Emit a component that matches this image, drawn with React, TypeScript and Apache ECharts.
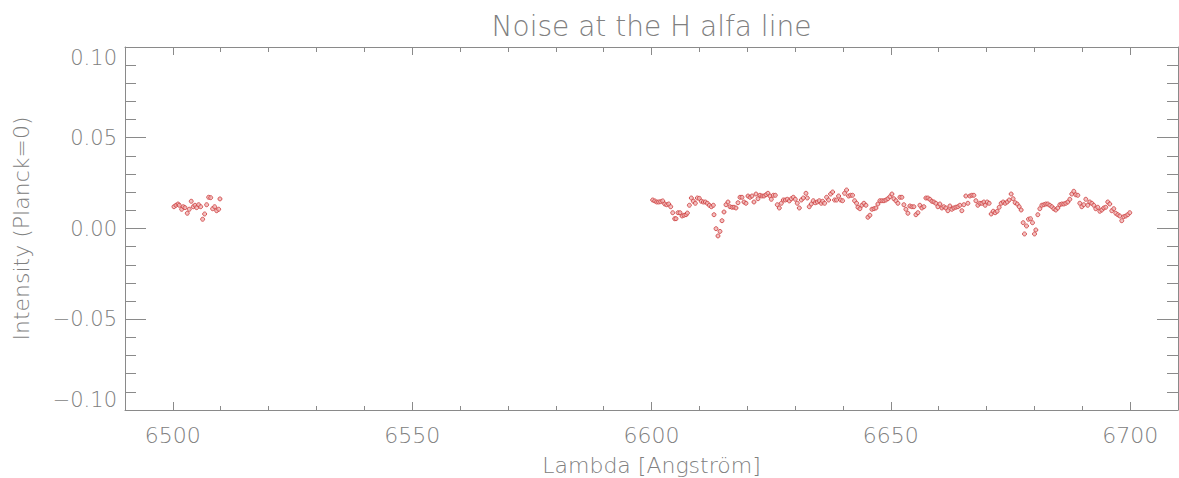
import React, { useEffect, useRef } from "react";
import * as echarts from "echarts";

const titleText = "Noise at the H alfa line";
const xName = "Lambda [Angström]";
const yName = "Intensity (Planck=0)";

const xMin = 6490;
const xMax = 6710;
const xMajorTicks = [6500, 6550, 6600, 6650, 6700];
const yMin = -0.1;
const yMax = 0.1;

const leftLambda = [
  6500.23, 6500.65, 6501.07, 6501.34, 6501.84, 6502.17, 6502.53, 6503.01, 6503.43, 6503.84,
  6504.26, 6504.62, 6504.97, 6505.39, 6505.81, 6506.22, 6506.64, 6507.06, 6507.48, 6507.9,
  6508.31, 6508.73, 6509.15, 6509.57, 6509.84,
];
const leftIntensity = [
  0.012, 0.0128, 0.0135, 0.0128, 0.0106, 0.012, 0.0115, 0.0084, 0.0106, 0.015,
  0.012, 0.0128, 0.0115, 0.0131, 0.012, 0.0051, 0.008, 0.0131, 0.0172, 0.017,
  0.0109, 0.012, 0.0098, 0.0106, 0.0163,
];

const rightLambdaA = [
  6600.25, 6600.67, 6601.09, 6601.5, 6601.92, 6602.34, 6602.76, 6603.17, 6603.59, 6604.01,
  6604.43, 6604.84, 6605.12, 6605.54, 6605.96, 6606.38, 6606.79, 6607.21, 6607.49, 6607.91,
  6608.32, 6608.74, 6609.16, 6609.58, 6609.99, 6610.41, 6610.83, 6611.25, 6611.67, 6612.08,
  6612.5, 6612.92, 6613.06, 6613.48, 6613.89, 6614.31, 6614.73, 6615.15, 6615.56, 6615.98,
  6616.4, 6616.82, 6617.23, 6617.65, 6618.07, 6618.49, 6618.9, 6619.32, 6619.74, 6620.16,
  6620.58, 6620.99, 6621.41, 6621.83, 6622.25, 6622.66, 6623.08, 6623.5, 6623.92, 6624.33,
  6624.75, 6625.03, 6625.45, 6625.87, 6626.28, 6626.7, 6627.12, 6627.54, 6627.95, 6628.37,
  6628.79, 6629.21, 6629.62, 6630.04, 6630.46, 6630.88, 6631.3, 6631.71,
];
const rightIntensityA = [
  0.0157, 0.0152, 0.0146, 0.0146, 0.0148, 0.0152, 0.0135, 0.0131, 0.0135, 0.012,
  0.0087, 0.0054, 0.0054, 0.0087, 0.0087, 0.0069, 0.0073, 0.0076, 0.0085, 0.0128,
  0.0168, 0.015, 0.0139, 0.0168, 0.0166, 0.015, 0.0146, 0.0146, 0.0139, 0.0128,
  0.012, 0.0128, 0.0076, -0.0001, -0.0041, -0.0016, 0.0043, 0.0091, 0.0131, 0.0146,
  0.012, 0.0117, 0.0117, 0.0113, 0.0142, 0.0172, 0.0172, 0.0146, 0.0139, 0.0179,
  0.0172, 0.0179, 0.0146, 0.019, 0.0164, 0.0183, 0.0179, 0.0179, 0.0186, 0.0194,
  0.0179, 0.0161, 0.0183, 0.0183, 0.0131, 0.0113, 0.0139, 0.0157, 0.0157, 0.0161,
  0.0152, 0.0164, 0.0172, 0.0161, 0.0139, 0.0113, 0.0157, 0.0168,
];

const rightLambdaB = [
  6632.27, 6632.55, 6632.96, 6633.38, 6633.8, 6634.22, 6634.63, 6635.05, 6635.47, 6635.75,
  6636.17, 6636.58, 6637.0, 6637.42, 6637.84, 6638.25, 6638.67, 6639.09, 6639.51, 6639.92,
  6640.34, 6640.76, 6641.18, 6641.6, 6642.01, 6642.43, 6642.85, 6643.13, 6643.54, 6643.96,
  6644.38, 6644.8, 6645.21, 6645.63, 6646.05, 6646.47, 6646.89, 6647.3, 6647.72, 6648.14,
  6648.56, 6648.97, 6649.39, 6649.81, 6650.23, 6650.64, 6651.06, 6651.48, 6651.9, 6652.31,
  6652.73, 6653.15, 6653.57, 6653.98, 6654.4, 6654.82, 6655.24, 6655.66, 6656.07, 6656.49,
  6656.91, 6657.33, 6657.74, 6658.16, 6658.58, 6659.0, 6659.41, 6659.83, 6660.25, 6660.67,
  6661.08, 6661.5, 6661.92, 6662.34, 6662.75, 6663.17, 6663.59, 6664.01, 6664.43, 6664.84,
  6665.26,
];
const rightIntensityB = [
  0.0194, 0.0168, 0.012, 0.0135, 0.0153, 0.0142, 0.0146, 0.0153, 0.0139, 0.015,
  0.0139, 0.0172, 0.0157, 0.019, 0.0201, 0.0157, 0.0157, 0.0179, 0.0157, 0.0153,
  0.0194, 0.0212, 0.0179, 0.0183, 0.0183, 0.0153, 0.0139, 0.0117, 0.0109, 0.0128,
  0.0139, 0.0128, 0.0062, 0.0073, 0.0106, 0.0109, 0.0113, 0.0135, 0.0153, 0.0153,
  0.0153, 0.0157, 0.0164, 0.0175, 0.019, 0.0164, 0.0153, 0.0139, 0.0172, 0.0172,
  0.0131, 0.0106, 0.0084, 0.0124, 0.012, 0.012, 0.0076, 0.0087, 0.0128, 0.0113,
  0.012, 0.0168, 0.0168, 0.0161, 0.015, 0.0146, 0.0139, 0.012, 0.0135, 0.0113,
  0.012, 0.0113, 0.0098, 0.0124, 0.0106, 0.0113, 0.0117, 0.012, 0.0128, 0.0098,
  0.0131,
];

const rightLambdaC = [
  6665.68, 6666.1, 6666.51, 6666.93, 6667.35, 6667.77, 6668.18, 6668.6, 6669.02, 6669.44,
  6669.72, 6670.13, 6670.55, 6670.97, 6671.39, 6671.8, 6672.22, 6672.64, 6673.06, 6673.47,
  6673.89, 6674.31, 6674.73, 6675.14, 6675.56, 6675.98, 6676.4, 6676.82, 6677.23, 6677.65,
  6677.93, 6678.35, 6678.76, 6679.18, 6679.6, 6680.02, 6680.3, 6680.71, 6681.13, 6681.55,
  6681.97, 6682.38, 6682.8, 6683.22, 6683.64, 6684.05, 6684.47, 6684.89, 6685.31, 6685.72,
  6686.14, 6686.56, 6686.98, 6687.4, 6687.81, 6688.23, 6688.65, 6689.07, 6689.48, 6689.9,
  6690.32, 6690.74, 6691.15, 6691.57, 6691.99, 6692.41, 6692.82, 6693.24, 6693.66, 6694.08,
  6694.49, 6694.91, 6695.33, 6695.75, 6696.16, 6696.58, 6697.0, 6697.42, 6697.84, 6698.25,
  6698.67, 6699.09, 6699.51, 6699.92,
];
const rightIntensityC = [
  0.0179, 0.0139, 0.0179, 0.0183, 0.0183, 0.0153, 0.0128, 0.0139, 0.0139, 0.0146,
  0.0128, 0.0146, 0.0139, 0.008, 0.0095, 0.0087, 0.0095, 0.0117, 0.0139, 0.0146,
  0.0139, 0.0146, 0.0157, 0.019, 0.0164, 0.0142, 0.0135, 0.012, 0.0102, 0.0032,
  -0.003, 0.0014, 0.0051, 0.0054, 0.0032, -0.003, -0.0008, 0.0076, 0.0109, 0.0128,
  0.0131, 0.0135, 0.0135, 0.0128, 0.012, 0.0109, 0.0102, 0.0113, 0.0131, 0.0135,
  0.0135, 0.0139, 0.0146, 0.0161, 0.019, 0.0205, 0.0186, 0.0183, 0.0139, 0.012,
  0.0131, 0.0161, 0.0128, 0.0146, 0.0139, 0.0128, 0.0109, 0.0117, 0.0095, 0.0102,
  0.0113, 0.0117, 0.0146, 0.0135, 0.0098, 0.0109, 0.0084, 0.0076, 0.0069, 0.0043,
  0.0065, 0.0069, 0.0076, 0.0087,
];

const zip = (xs: number[], ys: number[]) => xs.map((x, i) => [x, ys[i]]);

const AXIS = "#8a8a8a";
const TEXT = "#808080";
const FONT = "'DejaVu Sans', sans-serif";

export default function App() {
  const ref = useRef<HTMLDivElement>(null);
  useEffect(() => {
    document.body.style.margin = "0";
    if (!ref.current) return;
    const chart = echarts.init(ref.current, null, { renderer: "svg" });
    const lineStyle = { color: AXIS, width: 1 };
    const fmtY = (v: number) => {
      const r = Math.round(v * 100) / 100;
      if (r === 0) return "0.00";
      return (r < 0 ? "\u2212" : "") + Math.abs(r).toFixed(2);
    };
    const data = [
      ...zip(leftLambda, leftIntensity),
      ...zip(rightLambdaA, rightIntensityA),
      ...zip(rightLambdaB, rightIntensityB),
      ...zip(rightLambdaC, rightIntensityC),
    ];
    const baseX = {
      type: "value" as const,
      min: xMin,
      max: xMax,
      splitLine: { show: false },
    };
    chart.setOption({
      animation: false,
      backgroundColor: "#ffffff",
      grid: {
        left: 125,
        right: 1,
        top: 47,
        bottom: 68,
        containLabel: false,
        outerBoundsMode: "none",
      },
      graphic: [
        {
          type: "text",
          x: 651.5,
          y: 26,
          style: {
            text: titleText,
            fill: TEXT,
            font: `200 28px ${FONT}`,
            textAlign: "center",
            textVerticalAlign: "middle",
          },
        },
      ],
      xAxis: [
        {
          ...baseX,
          position: "bottom",
          interval: 10,
          axisLine: { show: true, onZero: false, lineStyle },
          axisTick: { show: true, inside: true, length: 4, lineStyle },
          axisLabel: { show: false },
          name: xName,
          nameLocation: "middle",
          nameGap: 44,
          nameTextStyle: { color: TEXT, fontSize: 22, fontFamily: FONT, fontWeight: 200 },
        },
        {
          ...baseX,
          position: "bottom",
          axisLine: { show: false, onZero: false },
          axisTick: { show: true, inside: true, length: 8, lineStyle, customValues: xMajorTicks },
          axisLabel: {
            show: true,
            customValues: xMajorTicks,
            color: TEXT,
            fontSize: 22,
            fontFamily: FONT,
            fontWeight: 200,
            margin: 14,
            formatter: (v: number) => String(v),
          },
        },
        {
          ...baseX,
          position: "top",
          interval: 10,
          axisLine: { show: true, onZero: false, lineStyle },
          axisTick: { show: true, inside: true, length: 5, lineStyle },
          axisLabel: { show: false },
        },
        {
          ...baseX,
          position: "top",
          axisLine: { show: false, onZero: false },
          axisTick: { show: true, inside: true, length: 8, lineStyle, customValues: xMajorTicks },
          axisLabel: { show: false },
        },
      ],
      yAxis: [
        {
          type: "value",
          position: "left",
          min: yMin,
          max: yMax,
          interval: 0.05,
          splitLine: { show: false },
          axisLine: { show: true, onZero: false, lineStyle },
          axisTick: { show: true, inside: true, length: 21, lineStyle },
          minorTick: { show: true, splitNumber: 5, length: 11, lineStyle },
          minorSplitLine: { show: false },
          axisLabel: {
            color: TEXT,
            fontSize: 21,
            fontFamily: FONT,
            fontWeight: 200,
            margin: 8,
            formatter: fmtY,
            verticalAlignMaxLabel: "top",
            verticalAlignMinLabel: "bottom",
          },
          name: yName,
          nameLocation: "middle",
          nameGap: 93,
          nameTextStyle: { color: TEXT, fontSize: 22, fontFamily: FONT, fontWeight: 200 },
        },
        {
          type: "value",
          position: "right",
          min: yMin,
          max: yMax,
          interval: 0.05,
          splitLine: { show: false },
          axisLine: { show: true, onZero: false, lineStyle },
          axisTick: { show: true, inside: true, length: 21, lineStyle },
          minorTick: { show: true, splitNumber: 5, length: 11, lineStyle },
          axisLabel: { show: false },
        },
      ],
      series: [
        {
          type: "scatter",
          xAxisIndex: 0,
          yAxisIndex: 0,
          symbol: "circle",
          symbolSize: 4,
          itemStyle: { color: "#f0b0b0", borderColor: "#cc3b3b", borderWidth: 1 },
          data,
        },
      ],
    });
    return () => chart.dispose();
  }, []);
  return <div ref={ref} style={{ width: 1179, height: 478 }} />;
}
